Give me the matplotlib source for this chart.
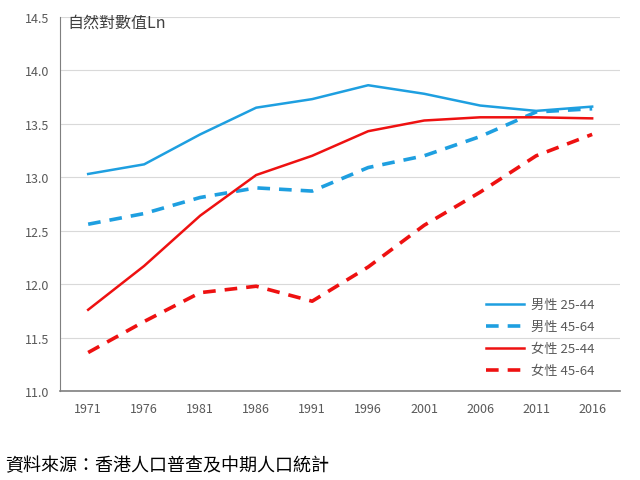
import matplotlib.pyplot as plt

plt.rcParams['font.family'] = ['Noto Sans CJK TC', 'DejaVu Sans']

# -------------------
# Data
# -------------------
years = ["1971", "1976", "1981", "1986", "1991", "1996", "2001", "2006", "2011", "2016"]
male_25_44 = [13.03, 13.12, 13.40, 13.65, 13.73, 13.86, 13.78, 13.67, 13.62, 13.66]
male_45_64 = [12.56, 12.66, 12.81, 12.90, 12.87, 13.09, 13.20, 13.38, 13.61, 13.64]
female_25_44 = [11.76, 12.17, 12.64, 13.02, 13.20, 13.43, 13.53, 13.56, 13.56, 13.55]
female_45_64 = [11.36, 11.65, 11.92, 11.98, 11.84, 12.16, 12.55, 12.86, 13.20, 13.40]
y_ticks = [11.0, 11.5, 12.0, 12.5, 13.0, 13.5, 14.0, 14.5]

blue = '#1E9FE0'
red = '#EE1111'
grey = '#595959'

fig = plt.figure(figsize=(6.4, 4.81), dpi=100)
ax = fig.add_axes([0.094, 0.185, 0.875, 0.778])

x = range(len(years))
ax.plot(x, male_25_44, color=blue, lw=1.8, label='男性 25-44')
ax.plot(x, male_45_64, color=blue, lw=2.6, dashes=(3.5, 2.5), label='男性 45-64')
ax.plot(x, female_25_44, color=red, lw=1.8, label='女性 25-44')
ax.plot(x, female_45_64, color=red, lw=2.6, dashes=(3.5, 2.5), label='女性 45-64')

ax.set_xlim(-0.5, len(years) - 0.5)
ax.set_ylim(11.0, 14.5)
ax.set_xticks(list(x))
ax.set_xticklabels(years)
ax.set_yticks(y_ticks)
ax.set_yticklabels([f'{v:.1f}' for v in y_ticks])
ax.tick_params(axis='both', length=0, labelsize=9, colors=grey, pad=8)
ax.grid(axis='y', color='#D9D9D9', lw=0.8)
ax.set_axisbelow(True)
for s in ['top', 'right']:
    ax.spines[s].set_visible(False)
ax.spines['left'].set_color('#7F7F7F')
ax.spines['bottom'].set_color('#7F7F7F')
ax.spines['bottom'].set_linewidth(1.2)

ax.text(0.012, 1.008, '自然對數值Ln', transform=ax.transAxes, fontsize=11.5,
        color='#404040', va='top', ha='left')

leg = ax.legend(loc='lower right', bbox_to_anchor=(0.975, 0.005), frameon=False,
                fontsize=9.5, handlelength=2.9, labelspacing=0.68, handletextpad=0.5)
for t in leg.get_texts():
    t.set_color(grey)

fig.text(0.008, 0.012, '資料來源：香港人口普查及中期人口統計', fontsize=13,
         color='black', ha='left', va='bottom')

fig.savefig('out.png', dpi=100)
